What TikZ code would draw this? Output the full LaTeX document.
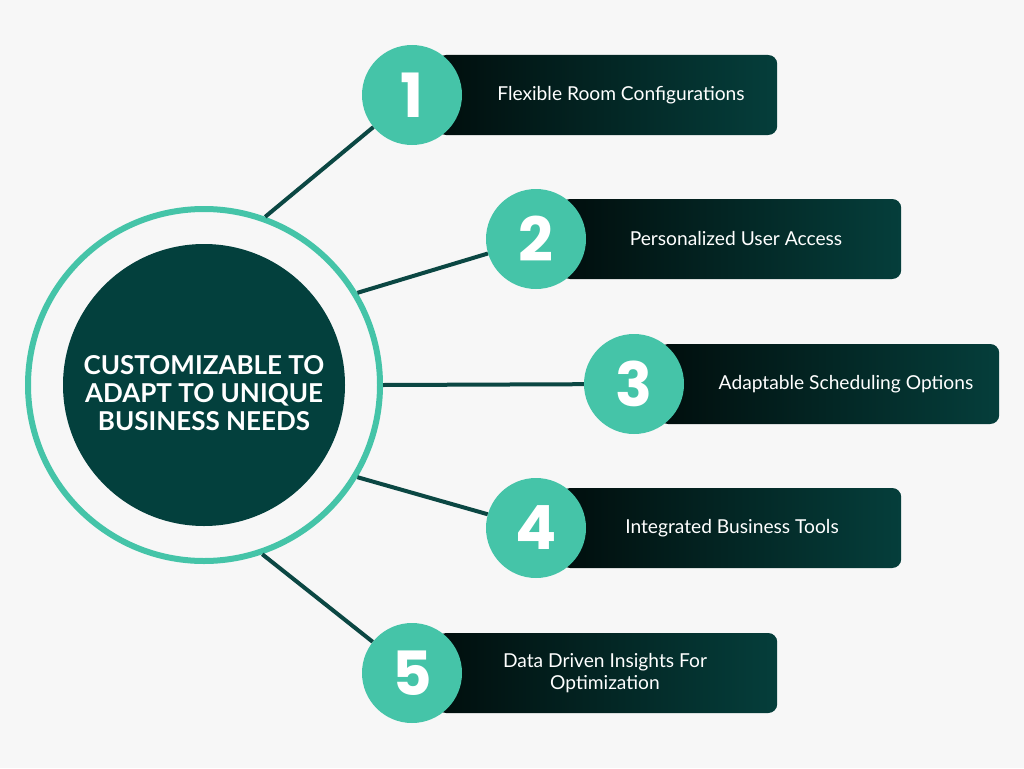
\documentclass[tikz,border=0pt]{standalone}
\usepackage{fontspec}
\setmainfont{Lato}
\newfontfamily\numfont{Poppins}
\usetikzlibrary{positioning}
\definecolor{bggray}{HTML}{F7F7F7}
\definecolor{tealc}{HTML}{45C4A8}
\definecolor{hubc}{HTML}{03403D}
\definecolor{linec}{HTML}{0B4743}
\definecolor{boxleft}{HTML}{010E0D}
\definecolor{boxright}{HTML}{053E3B}

\begin{document}
\begin{tikzpicture}[x=1pt,y=-1pt,
    numcirc/.style={circle,fill=tealc,minimum size=100pt,inner sep=0pt,text=white,font=\numfont\bfseries\fontsize{61}{61}\selectfont},
    itembox/.style={rectangle,rounded corners=9pt,minimum width=340pt,minimum height=80pt,left color=boxleft,right color=boxright,anchor=west},
    itemtext/.style={text=white,align=center,font=\fontsize{19.2}{22.5}\selectfont},
    spoke/.style={draw=linec,line width=4pt}]
    \fill[bggray] (0,0) rectangle (1024,768);
    \useasboundingbox (0,0) rectangle (1024,768);
    \node[circle,draw=tealc,line width=6pt,minimum size=352pt,inner sep=0pt] (ring) at (204,385) {};
    \node[circle,fill=hubc,minimum size=282pt,inner sep=0pt] (hub) at (204,385) {};
    \node[text=white,align=center,font=\bfseries\fontsize{26}{28}\selectfont] (title) at (204,393)
          {CUSTOMIZABLE TO\\ADAPT TO UNIQUE\\BUSINESS NEEDS};
    \foreach \i/\cx/\cy/\tx/\txt in {1/412/95/621/Flexible Room Configurations,
        2/536/239/736/Personalized User Access,
        3/634/384/846/Adaptable Scheduling Options,
        4/536/528/732/Integrated Business Tools,
        5/412/673/605/{Data Driven Insights For\\Optimization}} {
        \node[itembox] (b\i) at (\cx+25,\cy) {};
        \node[numcirc] (n\i) at (\cx,\cy) {\i};
        \node[itemtext] (t\i) at (\tx,\cy) {\txt};
    }
    \draw[spoke] (ring.70) -- (n1);
    \draw[spoke] (ring.31) -- (n2);
    \draw[spoke] (ring.0) -- (n3);
    \draw[spoke] (ring.-31) -- (n4);
    \draw[spoke] (ring.-71) -- (n5);
\end{tikzpicture}
\end{document}
